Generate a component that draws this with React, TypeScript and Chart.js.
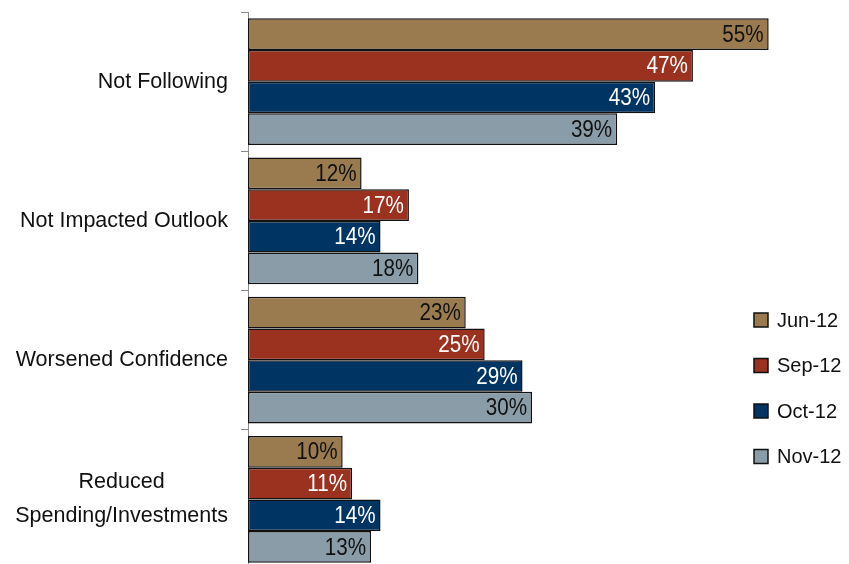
import React, { useEffect, useRef } from "react";
import { Chart, registerables } from "chart.js";

Chart.register(...registerables);

const categories: (string | string[])[] = [
  "Not Following",
  "Not Impacted Outlook",
  "Worsened Confidence",
  ["Reduced", "Spending/Investments"],
];
const seriesNames = ["Jun-12", "Sep-12", "Oct-12", "Nov-12"];
const jun12 = [55, 12, 23, 10];
const sep12 = [47, 17, 25, 11];
const oct12 = [43, 14, 29, 14];
const nov12 = [39, 18, 30, 13];
const seriesColors = ["#9A7B4F", "#9B3220", "#003462", "#8A9CA8"];
const labelColors = ["#111111", "#ffffff", "#ffffff", "#111111"];

const FONT = "'Liberation Sans', Arial, sans-serif";
const CAT_FONT_SIZE = 21.5;
const CAT_LINE_HEIGHT = 34;

const valueLabels = {
  id: "valueLabels",
  afterDatasetsDraw(chart: any) {
    const ctx = chart.ctx;
    const sx = 0.86;
    chart.data.datasets.forEach((ds: any, i: number) => {
      const meta = chart.getDatasetMeta(i);
      meta.data.forEach((bar: any, j: number) => {
        ctx.save();
        ctx.font = `24px ${FONT}`;
        ctx.textAlign = "right";
        ctx.textBaseline = "middle";
        ctx.fillStyle = labelColors[i];
        ctx.translate(bar.x - 5, bar.y + 1);
        ctx.scale(sx, 1);
        ctx.fillText(`${ds.data[j]}%`, 0, 0);
        ctx.restore();
      });
    });
  },
};

const categoryLabels = {
  id: "categoryLabels",
  afterDraw(chart: any) {
    const ctx = chart.ctx;
    const yScale = chart.scales.y;
    const right = chart.chartArea.left - 20;
    ctx.save();
    ctx.font = `${CAT_FONT_SIZE}px ${FONT}`;
    ctx.textAlign = "center";
    ctx.textBaseline = "middle";
    ctx.fillStyle = "#111111";
    categories.forEach((cat, i) => {
      const lines = Array.isArray(cat) ? cat : [cat];
      const widest = Math.max(...lines.map((l) => ctx.measureText(l).width));
      const cx = right - widest / 2;
      const cy = yScale.getPixelForTick(i);
      const y0 = cy - ((lines.length - 1) * CAT_LINE_HEIGHT) / 2;
      lines.forEach((l, k) => {
        ctx.fillText(l, cx, y0 + k * CAT_LINE_HEIGHT);
      });
    });
    ctx.restore();
  },
};

const sideLegend = {
  id: "sideLegend",
  afterDraw(chart: any) {
    const ctx = chart.ctx;
    ctx.save();
    ctx.font = `20px ${FONT}`;
    ctx.textAlign = "left";
    ctx.textBaseline = "middle";
    seriesNames.forEach((name, i) => {
      const cy = 320 + i * 45.5;
      ctx.fillStyle = seriesColors[i];
      ctx.fillRect(754, cy - 7, 14, 14);
      ctx.strokeStyle = "#111";
      ctx.lineWidth = 1.5;
      ctx.strokeRect(754, cy - 7, 14, 14);
      ctx.fillStyle = "#111";
      ctx.fillText(name, 777, cy + 1);
    });
    ctx.restore();
  },
};

export default function App() {
  const ref = useRef<HTMLCanvasElement | null>(null);
  useEffect(() => {
    document.body.style.margin = "0";
    const canvas = ref.current!;
    const data = [jun12, sep12, oct12, nov12];
    const chart = new Chart(canvas, {
      type: "bar",
      data: {
        labels: categories,
        datasets: seriesNames.map((name, i) => ({
          label: name,
          data: data[i],
          backgroundColor: seriesColors[i],
          borderColor: "#111111",
          borderWidth: 1.5,
          borderSkipped: false,
          barPercentage: 1,
          categoryPercentage: 0.912,
        })),
      },
      options: {
        indexAxis: "y",
        responsive: false,
        animation: false,
        layout: { padding: { top: 12, right: 33, bottom: 1, left: 0 } },
        plugins: { legend: { display: false }, tooltip: { enabled: false } },
        scales: {
          x: { display: false, min: 0, max: 60 },
          y: {
            afterFit: (scale: any) => {
              scale.width = 248;
              scale.paddingTop = 0;
              scale.paddingBottom = 0;
            },
            grid: {
              display: true,
              offset: true,
              drawOnChartArea: false,
              drawTicks: true,
              tickLength: 7,
              color: "#8a8a8a",
            },
            border: { display: true, color: "#8a8a8a", width: 1 },
            ticks: {
              padding: 13,
              color: "rgba(0,0,0,0)",
              font: { family: FONT, size: CAT_FONT_SIZE, lineHeight: 1.58 },
            },
          },
        },
      },
      plugins: [valueLabels, categoryLabels, sideLegend],
    });
    return () => chart.destroy();
  }, []);
  return (
    <div style={{ width: 849, height: 564, overflow: "hidden", position: "relative" }}>
      <canvas ref={ref} width={849} height={570} style={{ display: "block" }} />
    </div>
  );
}
